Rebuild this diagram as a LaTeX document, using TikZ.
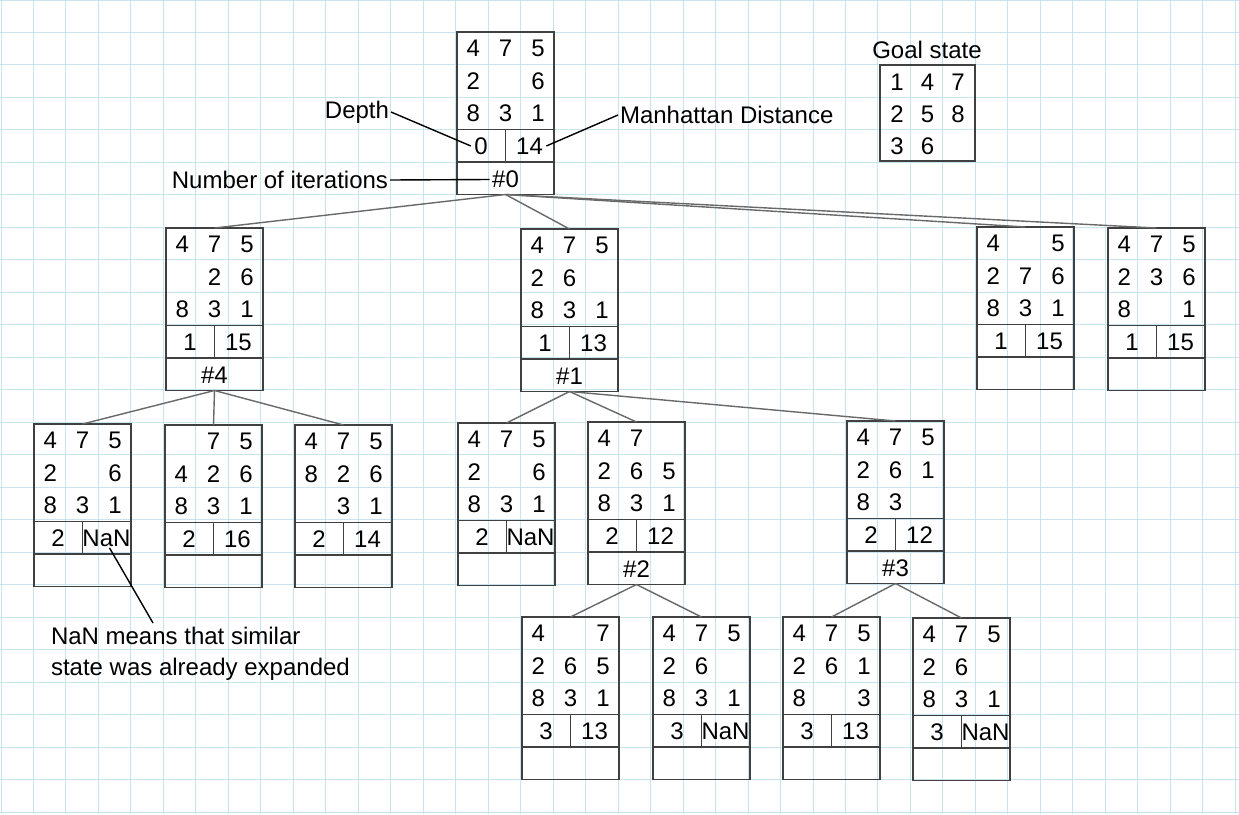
\documentclass[tikz,border=0pt]{standalone}
\usepackage{fontspec}
\setmainfont{Liberation Sans}
\definecolor{gridc}{RGB}{200,228,240}
\definecolor{boxc}{RGB}{64,64,64}
\definecolor{edgec}{RGB}{105,105,105}
\tikzset{
  gridline/.style={draw=gridc, line width=1pt},
  pzbox/.style={draw=boxc, line width=1.3pt, minimum width=97pt, minimum height=162.5pt, inner sep=0pt, outer sep=0pt},
  goalbox/.style={draw=boxc, line width=1.3pt, minimum width=95pt, minimum height=96pt, inner sep=0pt, outer sep=0pt},
  pzline/.style={draw=boxc, line width=1.3pt},
  cell/.style={inner sep=1.5pt, outer sep=0pt, font=\fontsize{24}{28}\selectfont},
  lbl/.style={inner sep=2pt, outer sep=0pt, font=\fontsize{24}{28}\selectfont},
  treeedge/.style={draw=edgec, line width=1.4pt},
  annline/.style={draw=black, line width=1.4pt},
}
\newcommand{\pz}[7]{%
  \node[pzbox, anchor=north west] (#1) at (#2,#3) {};
  \draw[pzline] (#2,#3+97.5) -- ++(97,0)
                (#2,#3+130) -- ++(97,0)
                (#2+48.5,#3+97.5) -- ++(0,32.5);
  \foreach \v [count=\i from 0] in {#4} {
    \pgfmathtruncatemacro\cc{mod(\i,3)}
    \pgfmathtruncatemacro\rr{div(\i,3)}
    \node[cell] (#1-c\i) at ({#2+16.2+32.4*\cc},{#3+16.5+32.6*\rr}) {\v};
  }
  \node[cell] (#1-d) at (#2+24,#3+114) {#5};
  \node[cell] (#1-m) at (#2+72.5,#3+114) {#6};
  \node[cell] (#1-i) at (#2+48.5,#3+147.5) {#7};
}
\begin{document}
\begin{tikzpicture}[x=1pt,y=-1pt]
\useasboundingbox (0,0) rectangle (1239,814);
\fill[white] (0,0) rectangle (1239,814);
% grid
\foreach \gx in {0,...,38} {\draw[gridline] ({1+32.48*\gx},0) -- ({1+32.48*\gx},814);}
\foreach \gy in {0,...,25} {\draw[gridline] (0,{32.48*\gy}) -- (1239,{32.48*\gy});}

% nodes
\pz{root}{457}{32}{4,7,5,2,{},6,8,3,1}{0}{14}{\#0}
\pz{nfour}{166}{228}{4,7,5,{},2,6,8,3,1}{1}{15}{\#4}
\pz{none}{521}{229}{4,7,5,2,6,{},8,3,1}{1}{13}{\#1}
\pz{rone}{977}{227}{4,{},5,2,7,6,8,3,1}{1}{15}{}
\pz{rtwo}{1108}{228}{4,7,5,2,3,6,8,{},1}{1}{15}{}
\pz{a}{34}{424}{4,7,5,2,{},6,8,3,1}{2}{NaN}{}
\pz{b}{165}{425}{{},7,5,4,2,6,8,3,1}{2}{16}{}
\pz{c}{295}{425}{4,7,5,8,2,6,{},3,1}{2}{14}{}
\pz{d}{458}{423}{4,7,5,2,{},6,8,3,1}{2}{NaN}{}
\pz{e}{588}{422}{4,7,{},2,6,5,8,3,1}{2}{12}{\#2}
\pz{f}{847}{421}{4,7,5,2,6,1,8,3,{}}{2}{12}{\#3}
\pz{g}{522}{617}{4,{},7,2,6,5,8,3,1}{3}{13}{}
\pz{h}{653}{617}{4,7,5,2,6,{},8,3,1}{3}{NaN}{}
\pz{i}{783}{617}{4,7,5,2,6,1,8,{},3}{3}{13}{}
\pz{j}{913}{618}{4,7,5,2,6,{},8,3,1}{3}{NaN}{}

% goal state
\node[lbl] (goallbl) at (927,50) {Goal state};
\node[goalbox, anchor=north west] (goal) at (880,65) {};
\foreach \v [count=\i from 0] in {1,4,7,2,5,8,3,6,{}} {
  \pgfmathtruncatemacro\cc{mod(\i,3)}
  \pgfmathtruncatemacro\rr{div(\i,3)}
  \node[cell] (goal-c\i) at ({897+30.5*\cc},{82+32*\rr}) {\v};
}

% tree edges
\draw[treeedge] (root.south) -- (nfour.north);
\draw[treeedge] (root.south) -- (none.north);
\draw[treeedge] (root.south) -- (rone.north);
\draw[treeedge] (root.south) -- (rtwo.north);
\draw[treeedge] (nfour.south) -- (a.north);
\draw[treeedge] (nfour.south) -- (b.north);
\draw[treeedge] (nfour.south) -- (c.north);
\draw[treeedge] (none.south) -- (d.north);
\draw[treeedge] (none.south) -- (e.north);
\draw[treeedge] (none.south) -- (f.north);
\draw[treeedge] (e.south) -- (g.north);
\draw[treeedge] (e.south) -- (h.north);
\draw[treeedge] (f.south) -- (i.north);
\draw[treeedge] (f.south) -- (j.north);

% annotations
\node[lbl, anchor=east] (deplbl) at (391,112) {Depth};
\node[lbl, anchor=west] (mdlbl) at (618,115) {Manhattan Distance};
\node[lbl, anchor=east] (itlbl) at (390,180) {Number of iterations};
\draw[annline] (deplbl.east) -- ([xshift=-2pt]root-d.west);
\draw[annline] (mdlbl.west) -- ([xshift=2pt]root-m.east);
\draw[annline] (itlbl.east) -- ([xshift=-1pt]root-i.west);

\node[lbl, anchor=north west, align=left, font=\fontsize{24}{31}\selectfont] (note) at (49,625) {NaN means that similar\\state was already expanded};
\coordinate (notetop) at (153,623);
\draw[annline] ([xshift=3pt]a-m.south) -- (notetop);
\end{tikzpicture}
\end{document}
